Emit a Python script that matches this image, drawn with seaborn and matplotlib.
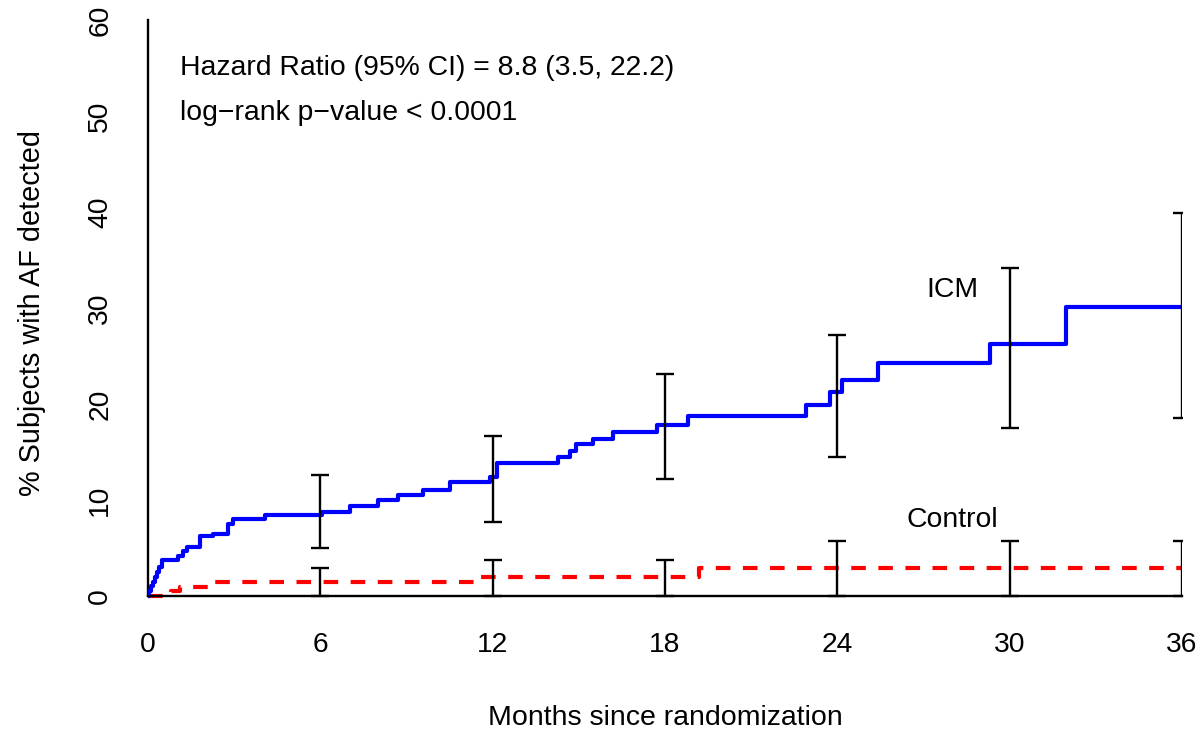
import matplotlib
matplotlib.use("Agg")
import matplotlib.pyplot as plt
import seaborn as sns
import pandas as pd

# Kaplan-Meier style cumulative incidence of AF detection (%)
icm_months = [0, 0.03, 0.10, 0.17, 0.25, 0.30, 0.38, 0.50, 1.04, 1.23, 1.35,
              1.81, 2.25, 2.80, 2.97, 4.07, 6.05, 7.03, 8.00, 8.72, 9.59,
              10.52, 11.91, 12.16, 14.29, 14.70, 14.90, 15.50, 16.20, 17.71,
              18.81, 22.91, 23.75, 24.15, 25.43, 29.32, 31.95, 36.0]
icm_pct = [0, 0.5, 1.0, 1.5, 2.0, 2.5, 3.0, 3.7, 4.2, 4.7, 5.1,
           6.2, 6.5, 7.5, 8.0, 8.4, 8.8, 9.4, 10.0, 10.5, 11.0,
           11.9, 12.4, 13.9, 14.5, 15.1, 15.8, 16.4, 17.1, 17.8,
           18.8, 19.9, 21.2, 22.5, 24.3, 26.3, 30.1, 30.1]

control_months = [0, 0.80, 1.10, 2.30, 11.50, 19.20, 36.0]
control_pct = [0, 0.48, 0.96, 1.44, 1.96, 2.95, 2.95]

# 95% confidence intervals at the six-month landmarks
ci_months = [6, 12, 18, 24, 30, 36]
icm_lower = [5.0, 7.75, 12.2, 14.5, 17.5, 18.5]
icm_upper = [12.6, 16.7, 23.1, 27.2, 34.2, 39.9]
control_lower = [0, 0, 0, 0, 0, 0]
control_upper = [2.95, 3.8, 3.8, 5.7, 5.7, 5.7]

x_ticks = [0, 6, 12, 18, 24, 30, 36]
y_ticks = [0, 10, 20, 30, 40, 50, 60]

sns.set_theme(style="white")
plt.rcParams["font.family"] = ["Liberation Sans", "DejaVu Sans"]
plt.rcParams["lines.scale_dashes"] = False

fig = plt.figure(figsize=(12.04, 7.35), dpi=100)
ax = fig.add_axes([0.1229, 0.1695, 0.8588, 0.8098])

icm_df = pd.DataFrame({"month": icm_months, "pct": icm_pct})
ctl_df = pd.DataFrame({"month": control_months, "pct": control_pct})

sns.lineplot(data=icm_df, x="month", y="pct", ax=ax, estimator=None,
             drawstyle="steps-post", color="#0000ff", linewidth=3.0, zorder=3)
sns.lineplot(data=ctl_df, x="month", y="pct", ax=ax, estimator=None,
             drawstyle="steps-post", color="#ff0000", linewidth=3.0,
             dashes=False, linestyle=(0, (10.5, 9.0)), zorder=2)


def draw_ci(lower, upper):
    ax.errorbar(ci_months, lower,
                yerr=[[0] * len(lower), [u - l for u, l in zip(upper, lower)]],
                fmt="none", ecolor="black", elinewidth=1.7, capsize=6.5,
                capthick=1.7, zorder=4)


draw_ci(icm_lower, icm_upper)
draw_ci(control_lower, control_upper)

ax.set_xlim(0, 36)
ax.set_ylim(-1.5, 60.5)
ax.set_xticks(x_ticks)
ax.set_yticks(y_ticks)
ax.set_xticklabels([str(v) for v in x_ticks])
ax.set_yticklabels([str(v) for v in y_ticks])

for side in ("top", "right"):
    ax.spines[side].set_visible(False)
ax.spines["bottom"].set_position(("data", 0))
ax.spines["bottom"].set_zorder(5)
ax.spines["left"].set_bounds(0, 60)
for side in ("bottom", "left"):
    ax.spines[side].set_color("black")
    ax.spines[side].set_linewidth(1.7)

ax.tick_params(axis="both", which="major", direction="out", length=13,
               width=1.7, color="black", labelsize=20.3, labelcolor="black")
ax.tick_params(axis="x", pad=13)
ax.tick_params(axis="y", pad=12, labelrotation=90)
for lab in ax.get_yticklabels():
    lab.set_va("center")

ax.set_xlabel("Months since randomization", fontsize=20.5, color="black",
              labelpad=34)
ax.set_ylabel("% Subjects with AF detected", fontsize=20.8, color="black",
              labelpad=30)

ax.text(1.11, 55, "Hazard Ratio (95% CI) = 8.8 (3.5, 22.2)", fontsize=20.4,
        va="center", ha="left", color="black")
ax.text(1.11, 50.3, "log\u2212rank p\u2212value < 0.0001", fontsize=20.4,
        va="center", ha="left", color="black")
ax.text(28.0, 31.9, "ICM", fontsize=20.4, va="center", ha="center",
        color="black")
ax.text(28.0, 7.9, "Control", fontsize=20.4, va="center", ha="center",
        color="black")

fig.savefig("out.png", dpi=100)
